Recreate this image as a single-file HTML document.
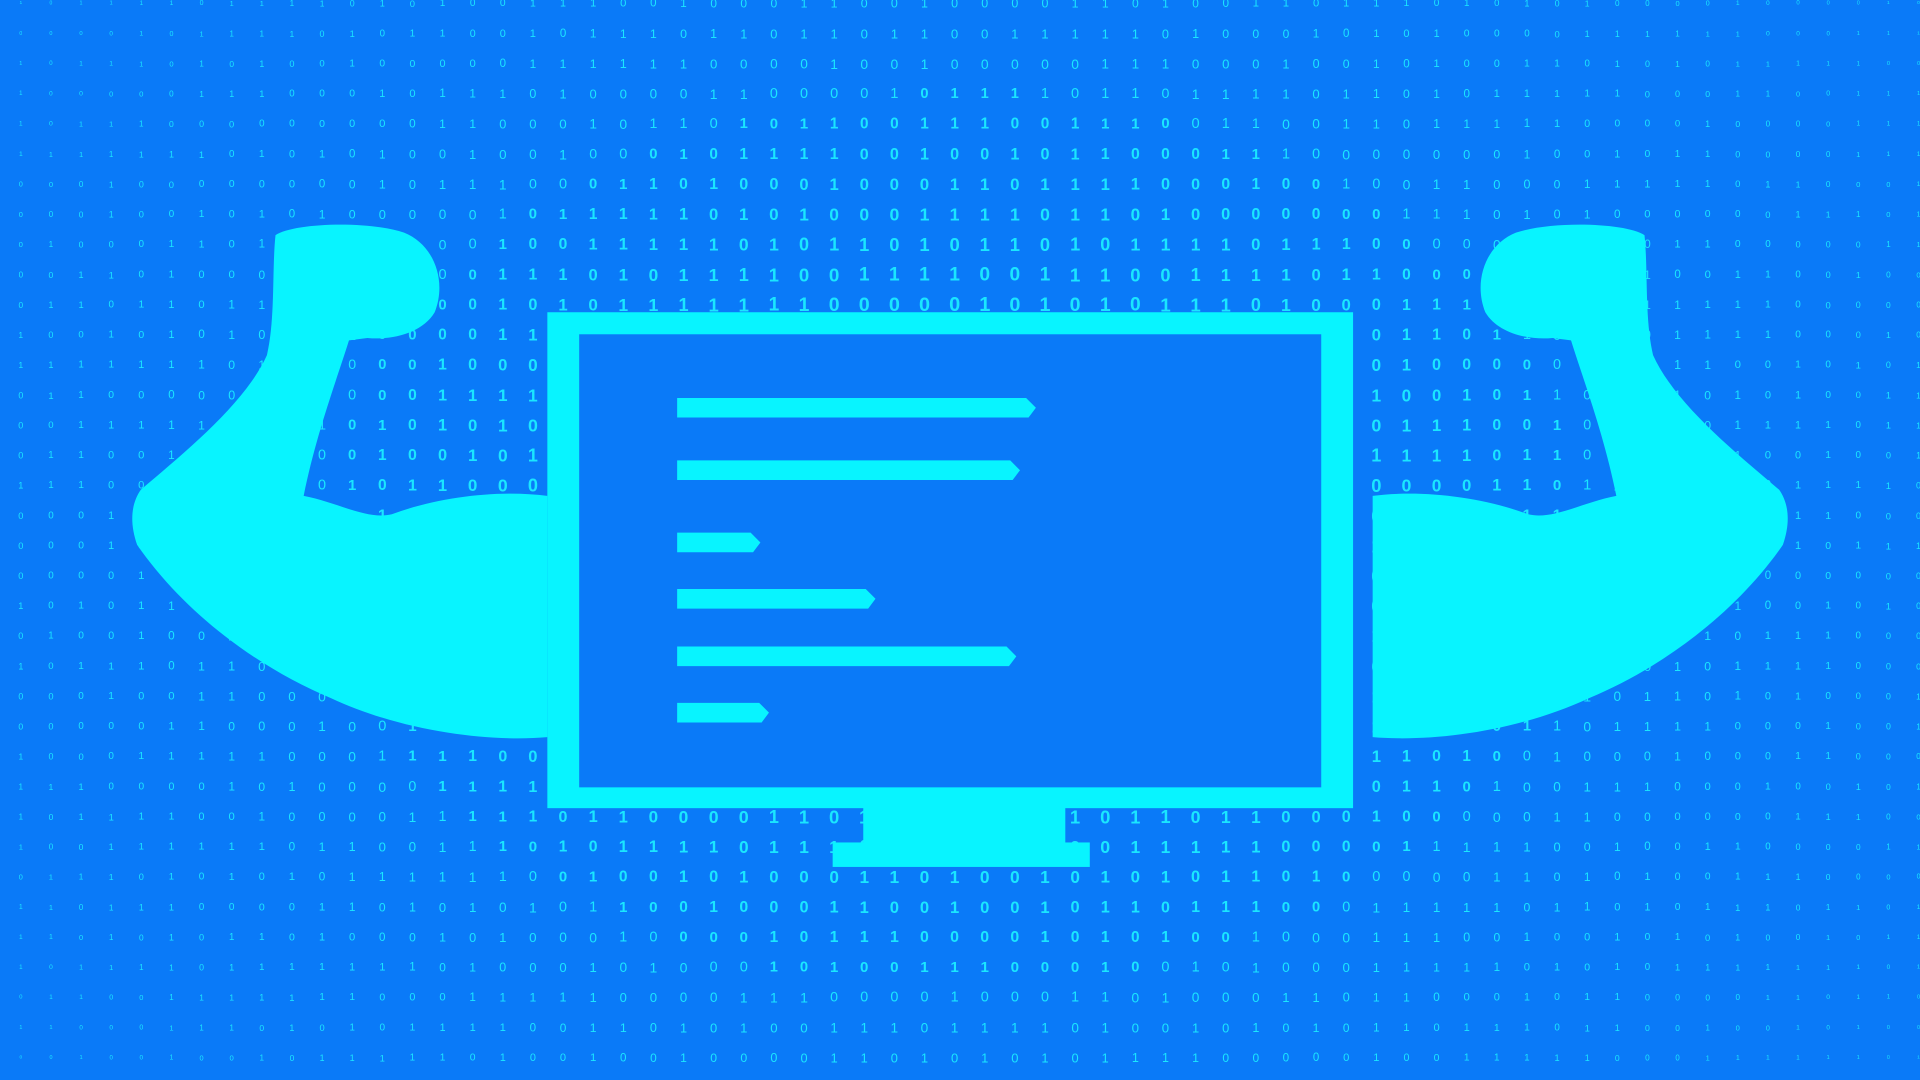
<!DOCTYPE html>
<html><head><meta charset="utf-8"><style>
html,body{margin:0;padding:0;background:#0a7af8;overflow:hidden}
svg{display:block}
text{font-family:"Liberation Sans",sans-serif;fill:#1ae6ff;text-anchor:middle;dominant-baseline:central}
</style></head><body>
<svg id="s" width="1920" height="1080" viewBox="0 0 1568 882" xmlns="http://www.w3.org/2000/svg">
<rect width="1568" height="882" fill="#0a7af8"/>
<g id="d"></g>
<g fill="#08f4ff">
<path d="M225,192 C240,182 300,180 330,190 C355,200 365,230 355,255 C345,272 320,278 300,276 L285,278 C275,310 258,355 248,405 C275,410 300,425 320,420 C360,405 410,400 447,405 L447,602 C400,606 330,598 270,570 C210,545 150,500 112,445 C105,425 108,410 115,400 C150,370 200,330 218,290 C225,260 222,220 225,192 Z"/>
<path d="M1343,192 C1328,182 1268,180 1238,190 C1213,200 1203,230 1213,255 C1223,272 1248,278 1268,276 L1283,278 C1293,310 1310,355 1320,405 C1293,410 1268,425 1248,420 C1208,405 1158,400 1121,405 L1121,602 C1168,606 1238,598 1298,570 C1358,545 1418,500 1456,445 C1463,425 1460,410 1453,400 C1418,370 1368,330 1350,290 C1343,260 1346,220 1343,192 Z"/>
<rect x="447" y="255" width="658" height="405"/>
<rect x="705" y="655" width="165" height="37"/>
<rect x="680" y="688" width="210" height="20"/>
</g>
<rect x="473" y="273" width="606" height="370" fill="#0a7af8"/>
<g fill="#08f4ff">
<path d="M553,325 H838 L846,333 L840,341 H553 Z"/>
<path d="M553,376 H825 L833,384 L827,392 H553 Z"/>
<path d="M553,435 H613 L621,443 L615,451 H553 Z"/>
<path d="M553,481 H707 L715,489 L709,497 H553 Z"/>
<path d="M553,528 H822 L830,536 L824,544 H553 Z"/>
<path d="M553,574 H620 L628,582 L622,590 H553 Z"/>
</g>
</svg>
<script>
(function(){
var g=document.getElementById('d'),seed=12345,h='';
function r(){seed=(seed*1103515245+12345)%2147483648;return seed/2147483648;}
for(var j=0;j<37;j++){for(var i=0;i<64;i++){
var x=17+24.6*i,y=3+24.6*j;
var dx=(x-784)/900,dy=(y-441)/640,d=Math.sqrt(dx*dx+dy*dy);
var fs=Math.max(4,21*(1-d*0.75));
h+='<text x="'+x.toFixed(1)+'" y="'+y.toFixed(1)+'" font-size="'+fs.toFixed(1)+'" font-weight="'+(fs>12?'bold':'normal')+'">'+(r()<0.5?'0':'1')+'</text>';
}}
g.innerHTML=h;
})();
</script>
</body></html>
